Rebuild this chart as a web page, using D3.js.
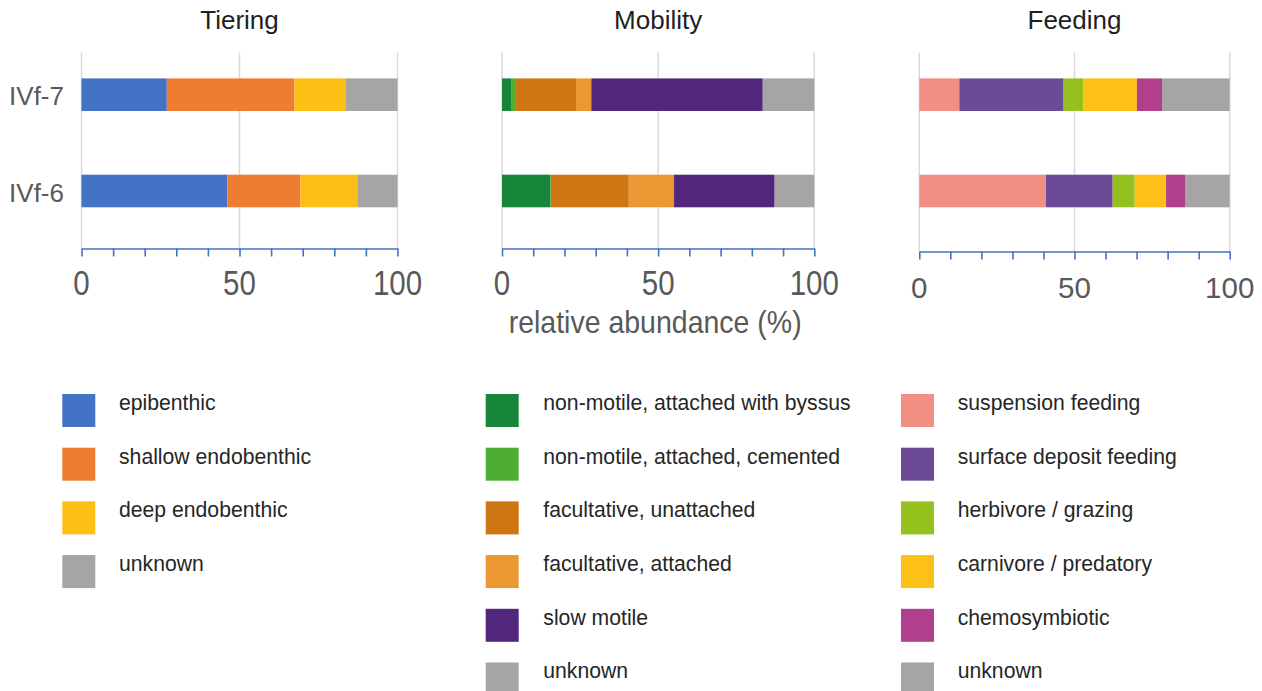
<!DOCTYPE html>
<html>
<head>
<meta charset="utf-8">
<script src="https://cdn.jsdelivr.net/npm/d3@7"></script>
<style>
  html, body { margin: 0; padding: 0; background: #ffffff; }
  svg { display: block; font-family: "Liberation Sans", Arial, sans-serif; }
</style>
</head>
<body>
<svg id="chart" width="1262" height="691"></svg>
<script>
// ---------------- data ----------------
const samples = ["IVf-7", "IVf-6"];

const tieringCats = ["epibenthic", "shallow endobenthic", "deep endobenthic", "unknown"];
const tieringColors = ["#4472c4", "#ed7d31", "#fdbf14", "#a5a5a5"];
const tieringIVf7 = [27.0, 40.4, 16.1, 16.5];
const tieringIVf6 = [46.2, 23.1, 18.0, 12.7];

const mobilityCats = ["non-motile, attached with byssus", "non-motile, attached, cemented",
  "facultative, unattached", "facultative, attached", "slow motile", "unknown"];
const mobilityColors = ["#18863a", "#4dae33", "#cf7512", "#eb9832", "#51267b", "#a5a5a5"];
const mobilityIVf7 = [2.9, 1.3, 19.5, 4.9, 54.9, 16.5];
const mobilityIVf6 = [15.5, 0.5, 24.6, 14.5, 32.2, 12.7];

const feedingCats = ["suspension feeding", "surface deposit feeding", "herbivore / grazing",
  "carnivore / predatory", "chemosymbiotic", "unknown"];
const feedingColors = ["#f18f85", "#6c4b96", "#95c11f", "#fcc017", "#b0408e", "#a5a5a5"];
const feedingIVf7 = [12.9, 33.6, 6.3, 17.3, 8.1, 21.8];
const feedingIVf6 = [40.8, 21.5, 7.1, 10.1, 6.3, 14.2];

const panelTitles = ["Tiering", "Mobility", "Feeding"];
const tickValues = [0, 10, 20, 30, 40, 50, 60, 70, 80, 90, 100];
const tickLabels = [0, 50, 100];
const gridValues = [0, 50, 100];
const xAxisTitle = "relative abundance (%)";

// ---------------- layout ----------------
const svg = d3.select("#chart");
const panels = [
  { title: panelTitles[0], cats: tieringCats, colors: tieringColors, values: [tieringIVf7, tieringIVf6],
    x0: 81.5, x1: 397.5, axisY: 248.5, labelY: 295, labelScaleY: 1.22,
    legendSwatchX: 62.3, legendTextX: 119 },
  { title: panelTitles[1], cats: mobilityCats, colors: mobilityColors, values: [mobilityIVf7, mobilityIVf6],
    x0: 502, x1: 814.3, axisY: 248.5, labelY: 295, labelScaleY: 1.22,
    legendSwatchX: 485.7, legendTextX: 543.3 },
  { title: panelTitles[2], cats: feedingCats, colors: feedingColors, values: [feedingIVf7, feedingIVf6],
    x0: 919.3, x1: 1229.7, axisY: 251.5, labelY: 298.3, labelScaleY: 1.0,
    legendSwatchX: 901, legendTextX: 957.7 }
];

const y = d3.scalePoint().domain(samples).range([94.7, 191]);
const barH = 32.6;
const gridTop = 52.7;

panels.forEach((p, pi) => {
  const x = d3.scaleLinear().domain([0, 100]).range([p.x0, p.x1]);
  const g = svg.append("g");

  // gridlines
  g.selectAll("line.grid").data(gridValues).join("line")
    .attr("class", "grid")
    .attr("x1", d => x(d)).attr("x2", d => x(d))
    .attr("y1", gridTop).attr("y2", p.axisY)
    .attr("stroke", "#d9d9d9").attr("stroke-width", 1.5);

  // stacked bars
  const rows = samples.map((s, i) => {
    const o = { sample: s };
    p.cats.forEach((c, j) => o[c] = p.values[i][j]);
    return o;
  });
  const stack = d3.stack().keys(p.cats)(rows);
  g.selectAll("g.series").data(stack).join("g")
    .attr("fill", (d, i) => p.colors[i])
    .selectAll("rect").data(d => d).join("rect")
    .attr("x", d => x(d[0]))
    .attr("width", d => Math.max(0, x(d[1]) - x(d[0])))
    .attr("y", d => y(d.data.sample) - barH / 2)
    .attr("height", barH);

  // axis
  const axis = d3.axisBottom(x).tickValues(tickValues).tickSize(8).tickSizeOuter(0).tickFormat("");
  const ag = g.append("g").attr("transform", `translate(0,${p.axisY})`).call(axis);
  ag.select(".domain").attr("stroke", "#4472c4").attr("stroke-width", 1.6);
  ag.selectAll(".tick line").attr("stroke", "#4472c4").attr("stroke-width", 1.6);

  // tick labels
  g.selectAll("text.tl").data(tickLabels).join("text")
    .attr("class", "tl")
    .attr("transform", d => `translate(${x(d)},${p.labelY}) scale(1,${p.labelScaleY})`)
    .attr("text-anchor", "middle")
    .attr("font-size", 29.5)
    .attr("fill", "#595959")
    .text(d => d);

  // title
  g.append("text")
    .attr("x", (p.x0 + p.x1) / 2).attr("y", 29.3)
    .attr("text-anchor", "middle")
    .attr("font-size", 26)
    .attr("fill", "#1f1f1f")
    .text(p.title);

  // legend
  const lg = g.append("g");
  p.cats.forEach((c, i) => {
    const top = 394 + i * 53.7;
    lg.append("rect").attr("x", p.legendSwatchX).attr("y", top)
      .attr("width", 33).attr("height", 33).attr("fill", p.colors[i]);
    lg.append("text").attr("x", p.legendTextX).attr("y", top + 15.8)
      .attr("font-size", 21.2).attr("fill", "#262626").text(c);
  });
});

// sample labels
svg.selectAll("text.ylab").data(samples).join("text")
  .attr("class", "ylab")
  .attr("x", 64).attr("y", d => y(d) + 10.5)
  .attr("text-anchor", "end")
  .attr("font-size", 26)
  .attr("fill", "#595959")
  .text(d => d);

// x-axis title (under middle panel)
svg.append("text")
  .attr("transform", `translate(${(panels[1].x0 + panels[1].x1) / 2 - 3},333) scale(1,1.08)`)
  .attr("text-anchor", "middle")
  .attr("font-size", 28.5)
  .attr("fill", "#595959")
  .text(xAxisTitle);
</script>
</body>
</html>
